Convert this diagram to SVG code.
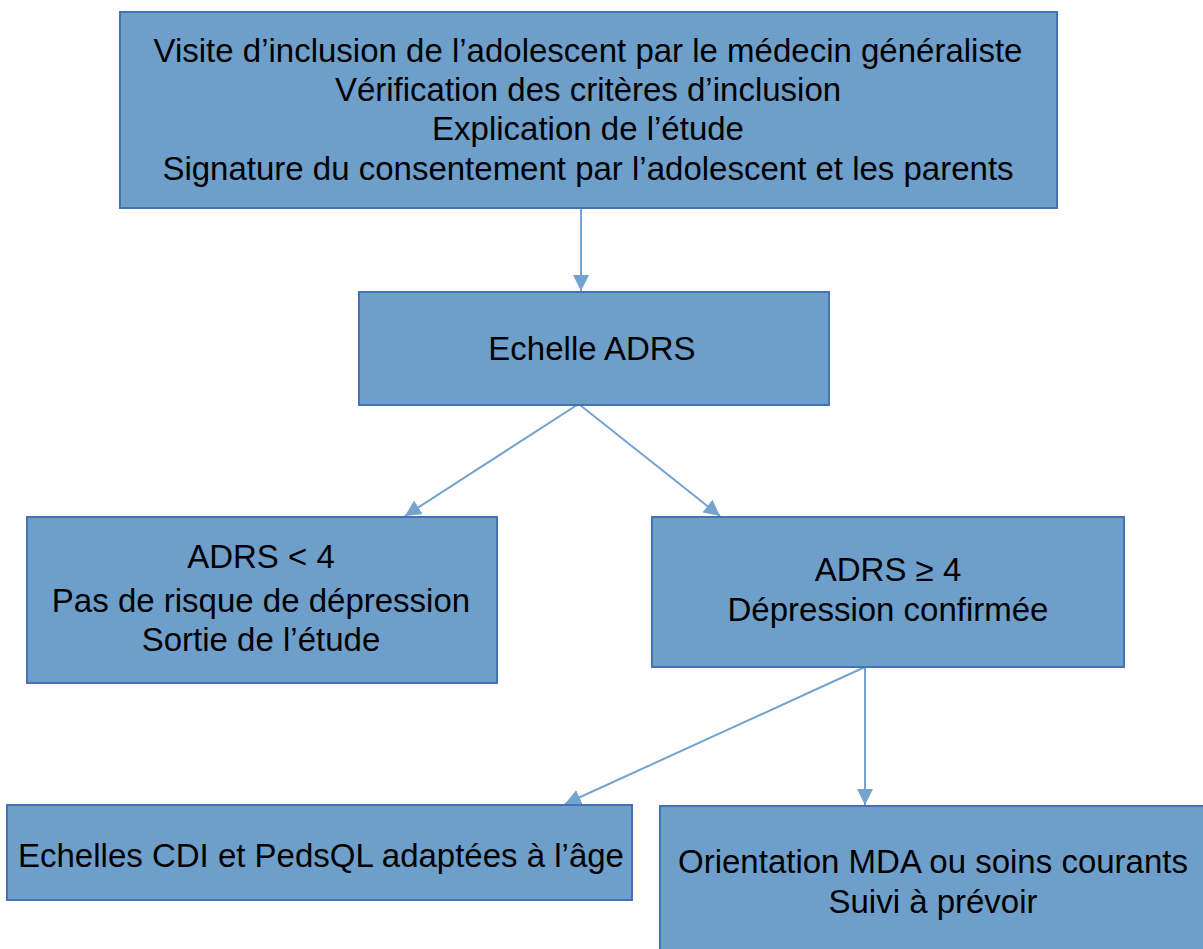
<svg xmlns="http://www.w3.org/2000/svg" width="1203" height="949" viewBox="0 0 1203 949">
<defs>
<style>
.box{fill:#6e9fcb;stroke:#4472b4;stroke-width:2}
.t{font-family:"Liberation Sans",Arial,sans-serif;font-size:33px;fill:#000;text-anchor:middle}
.c{stroke:#74a3d0;stroke-width:2;fill:none}
</style>
<marker id="ah2" viewBox="0 0 10 10" refX="10" refY="5" markerWidth="16" markerHeight="16" markerUnits="userSpaceOnUse" orient="auto"><path d="M0,0 L10,5 L0,10 z" fill="#74a3d0"/></marker>
</defs>
<rect width="1203" height="949" fill="#fff"/>
<g id="connectors">
<line class="c" x1="581" y1="208" x2="581" y2="291" marker-end="url(#ah2)"/>
<line class="c" x1="577" y1="405" x2="405" y2="516" marker-end="url(#ah2)"/>
<line class="c" x1="580" y1="405" x2="720" y2="516" marker-end="url(#ah2)"/>
<line class="c" x1="865" y1="667" x2="565" y2="804" marker-end="url(#ah2)"/>
<line class="c" x1="865" y1="667" x2="865" y2="805" marker-end="url(#ah2)"/>
</g>
<g id="n1">
<rect class="box" x="120" y="12" width="937" height="196"/>
<text class="t" x="588" y="62">Visite d’inclusion de l’adolescent par le médecin généraliste</text>
<text class="t" x="588" y="101">Vérification des critères d’inclusion</text>
<text class="t" x="588" y="140">Explication de l’étude</text>
<text class="t" x="588" y="180">Signature du consentement par l’adolescent et les parents</text>
</g>
<g id="n2">
<rect class="box" x="359" y="292" width="470" height="113"/>
<text class="t" x="592" y="360">Echelle ADRS</text>
</g>
<g id="n3">
<rect class="box" x="27" y="517" width="470" height="166"/>
<text class="t" x="261" y="568">ADRS &lt; 4</text>
<text class="t" x="261" y="612">Pas de risque de dépression</text>
<text class="t" x="261" y="651">Sortie de l’étude</text>
</g>
<g id="n4">
<rect class="box" x="652" y="517" width="472" height="150"/>
<text class="t" x="888" y="581">ADRS ≥ 4</text>
<text class="t" x="888" y="621">Dépression confirmée</text>
</g>
<g id="n5">
<rect class="box" x="7" y="805" width="625" height="95"/>
<text class="t" x="321" y="867">Echelles CDI et PedsQL adaptées à l’âge</text>
</g>
<g id="n6">
<rect class="box" x="660" y="806" width="550" height="150"/>
<text class="t" x="933" y="873">Orientation MDA ou soins courants</text>
<text class="t" x="933" y="913">Suivi à prévoir</text>
</g>
</svg>
